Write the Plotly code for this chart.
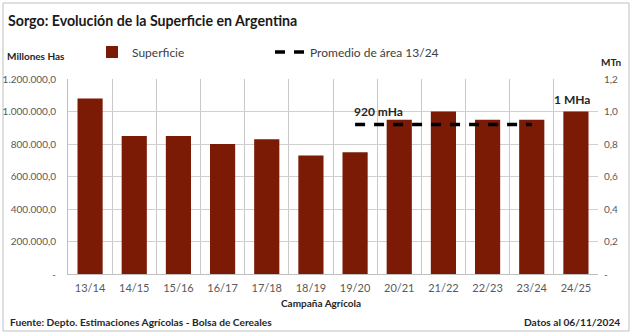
import plotly.graph_objects as go

campanas = ["13/14", "14/15", "15/16", "16/17", "17/18", "18/19",
            "19/20", "20/21", "21/22", "22/23", "23/24", "24/25"]
superficie = [1080000, 850000, 850000, 800000, 830000, 730000,
              750000, 950000, 1000000, 950000, 950000, 1000000]
promedio = [None, None, None, None, None, None,
            920000, 920000, 920000, 920000, 920000, None]

left_vals = [0, 200000, 400000, 600000, 800000, 1000000, 1200000]
left_text = ["-", "200.000,0", "400.000,0", "600.000,0", "800.000,0", "1.000.000,0", "1.200.000,0"]
right_vals = [0, 0.2, 0.4, 0.6, 0.8, 1.0, 1.2]
right_text = ["-", "0,2", "0,4", "0,6", "0,8", "1,0", "1,2"]

FONT = "Lato"
W, H = 633, 334
L, R, T, B = 68, 35, 79, 60
PW, PH = W - L - R, H - T - B

def px(x):
    return (x - L) / PW

def py(y):
    return (H - B - y) / PH

fig = go.Figure()
fig.add_trace(go.Bar(x=campanas, y=superficie, name="Superficie",
                     marker=dict(color="#7B1B06", line=dict(width=0))))
fig.add_trace(go.Scatter(x=campanas, y=promedio, name="Promedio de área 13/24",
                         mode="lines", line=dict(color="black", width=3.5, dash="10px,9px")))
fig.add_trace(go.Scatter(x=campanas, y=[None] * len(campanas), yaxis="y2",
                         showlegend=False, hoverinfo="skip"))

fig.update_layout(
    width=W, height=H,
    margin=dict(l=L, r=R, t=T, b=B, autoexpand=False),
    paper_bgcolor="white", plot_bgcolor="white",
    font=dict(family=FONT, size=11, color="#595959"),
    bargap=0.43,
    showlegend=True,
    legend=dict(orientation="h", x=px(92), y=py(52), xanchor="left", yanchor="middle",
                entrywidth=133, entrywidthmode="pixels",
                font=dict(family=FONT, size=12, color="#404040"),
                bgcolor="rgba(0,0,0,0)"),
    xaxis=dict(type="category", tickson="boundaries", showgrid=True, gridcolor="#C8C8C8",
               gridwidth=1, showline=True, linecolor="#BFBFBF", ticks="",
               ticklabelstandoff=4, automargin=False,
               tickfont=dict(size=11, color="#595959"), range=[-0.5, 11.5]),
    yaxis=dict(range=[0, 1200000], tickvals=left_vals, ticktext=left_text,
               showgrid=True, gridcolor="#D0D0D0", showline=True, linecolor="#BFBFBF",
               ticks="", zeroline=False, ticklabelstandoff=9, automargin=False,
               tickfont=dict(size=10, color="#595959")),
    yaxis2=dict(range=[0, 1.2], tickvals=right_vals, ticktext=right_text, overlaying="y",
                side="right", showgrid=False, ticks="", zeroline=False, ticklabelstandoff=5,
                automargin=False, tickfont=dict(size=10, color="#595959")),
)

ann = [
    dict(text="<b>Sorgo: Evolución de la Superficie en Argentina</b>", x=px(6), y=py(21),
         xanchor="left", yanchor="middle", font=dict(size=14.2, color="#1a1a1a")),
    dict(text="<b>Millones Has</b>", x=px(5), y=py(56), xanchor="left", yanchor="middle",
         font=dict(size=10, color="#262626")),
    dict(text="<b>MTn</b>", x=px(599), y=py(62), xanchor="left", yanchor="middle",
         font=dict(size=10, color="#262626")),
    dict(text="<b>Campaña Agrícola</b>", x=px(321), y=py(303), xanchor="center", yanchor="middle",
         font=dict(size=10, color="#262626")),
    dict(text="<b>Fuente: Depto. Estimaciones Agrícolas - Bolsa de Cereales</b>", x=px(8), y=py(322),
         xanchor="left", yanchor="middle", font=dict(size=10.2, color="#262626")),
    dict(text="<b>Datos al 06/11/2024</b>", x=px(622), y=py(322), xanchor="right", yanchor="middle",
         font=dict(size=10.2, color="#262626")),
    dict(text="<b>920 mHa</b>", x=px(378), y=py(111), xanchor="center", yanchor="middle",
         font=dict(size=12, color="#262626")),
    dict(text="<b>1 MHa</b>", x=px(572), y=py(99), xanchor="center", yanchor="middle",
         font=dict(size=12, color="#262626")),
]
for a in ann:
    a.update(xref="paper", yref="paper", showarrow=False)
fig.update_layout(annotations=ann)

fig.add_shape(type="rect", xref="paper", yref="paper",
              x0=px(3), x1=px(629), y0=py(331), y1=py(3),
              line=dict(color="#BFBFBF", width=1), layer="below")

fig.write_html("out.html")
